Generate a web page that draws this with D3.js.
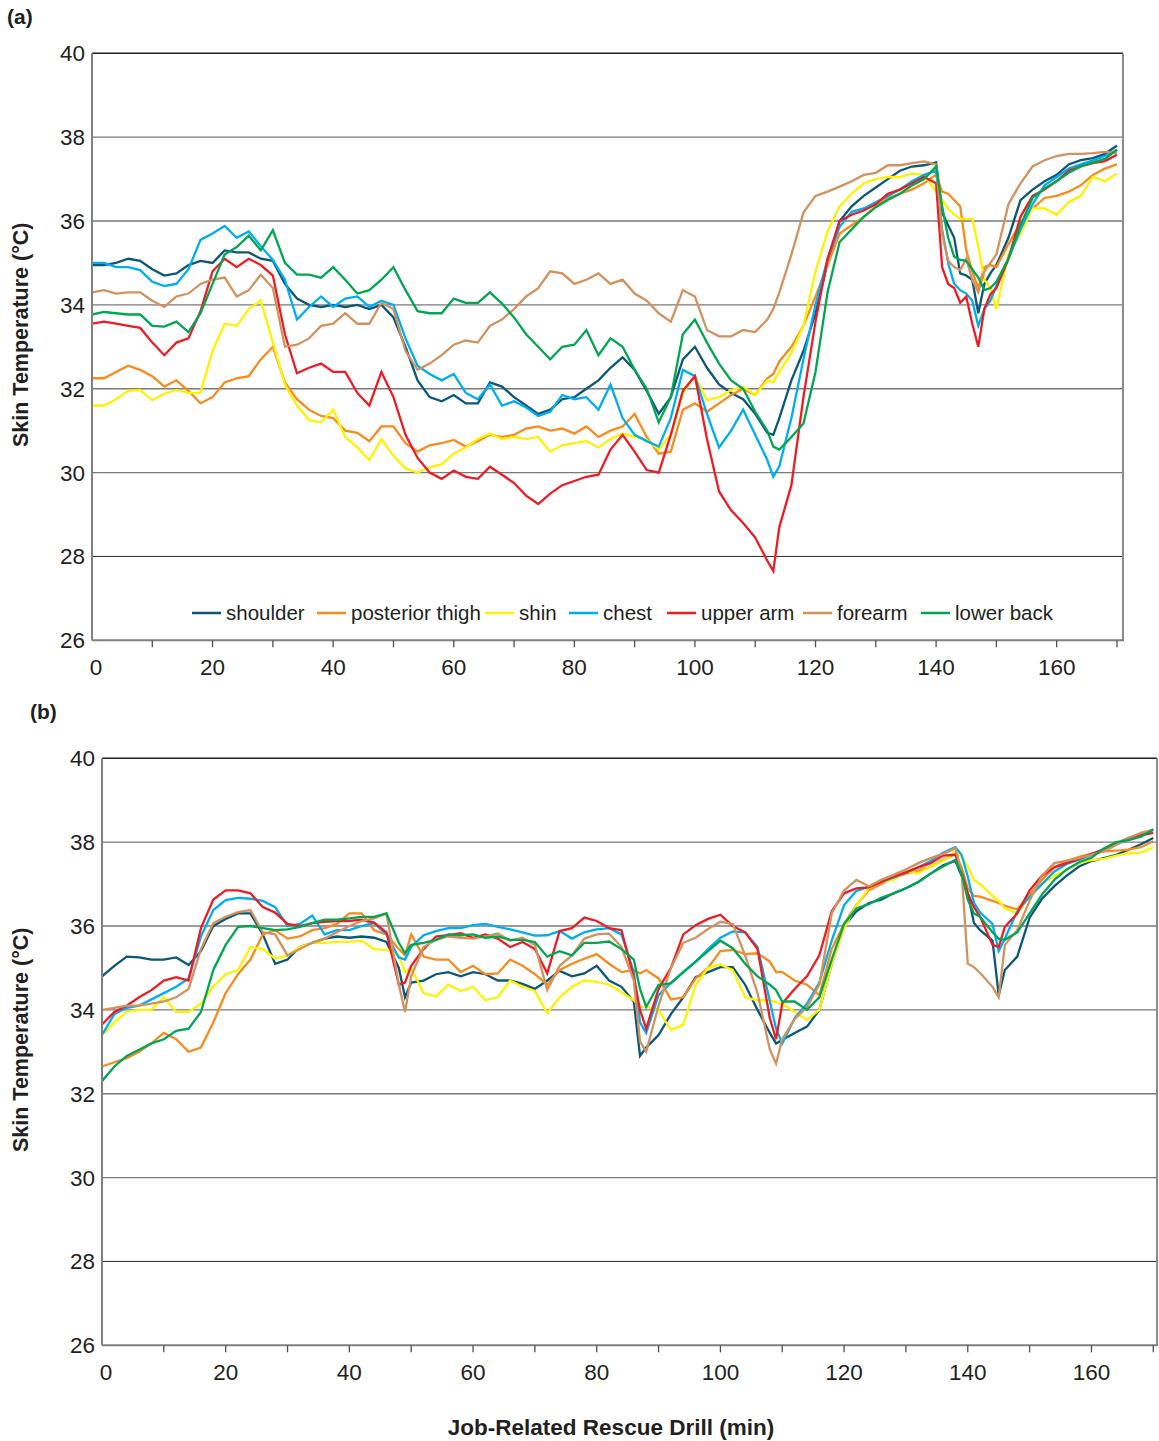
<!DOCTYPE html>
<html><head><meta charset="utf-8">
<script src="https://cdn.jsdelivr.net/npm/d3@7"></script>
<style>
body{margin:0;background:#fff}
svg{display:block}
text{font-family:"Liberation Sans",Arial,sans-serif;fill:#231f20}
</style>
</head><body><svg id="c" width="1159" height="1441"></svg>
<script>
// ---------- data ----------
const seriesNames = ["shoulder","posterior thigh","shin","chest","upper arm","forearm","lower back"];
const seriesColors = ["#0b5777","#f68b1f","#fff200","#00aeef","#ed1c24","#d2925e","#00a651"];
const yTickValues = [26,28,30,32,34,36,38,40];
const xTickLabels = [0,20,40,60,80,100,120,140,160];
const xTickMarks = [10,20,30,40,50,60,70,80,90,100,110,120,130,140,150,160,170];

const timesA = [0,2,4,6,8,10,12,14,16,18,20,22,24,26,28,30,32,34,36,38,40,42,44,46,48,50,52,54,56,58,60,62,64,66,68,70,72,74,76,78,80,82,84,86,88,90,92,94,96,98,100,102,104,106,108,110,112,
113,114,116,118,120,122,124,126,128,130,132,134,136,138,140,
141,142,143,144,145,146,147,148,149,150,152,154,156,158,160,162,164,166,168,170];

const shoulderA = [34.95,34.95,35.0,35.1,35.05,34.85,34.7,34.75,34.95,35.05, 35.0,35.3,35.25,35.25,35.1, 35.05,34.5,34.15,34.0,33.95, 34.0,33.95,34.0,33.9,34.0, 33.7,33.0,32.2,31.8,31.7, 31.85,31.65,31.65,32.15,32.05, 31.8,31.6,31.4,31.5,31.75, 31.8,32.0,32.2,32.5,32.75, 32.45,31.95,31.4,31.8,32.7, 33.0,32.5,32.1,31.9,31.75, 31.4,30.95,
30.9, 31.3,32.2,32.9,33.8,35.0,36.0,36.35,36.6,36.8,37.0,37.2,37.3,37.33,37.4,
36.2,35.9,35.6,34.75,34.7,34.6,33.8,34.5,34.75,34.95, 35.6,36.5,36.75,36.95,37.1,37.35,37.45,37.5,37.6,37.8];
const thighA = [32.25,32.25,32.4,32.55,32.45,32.3,32.05,32.2,31.95,31.65, 31.8,32.15,32.25,32.3,32.7, 33.0,32.15,31.75,31.5,31.35, 31.3,31.0,30.95,30.75,31.1, 31.1,30.7,30.5,30.65,30.7, 30.78,30.62,30.75,30.9,30.85, 30.9,31.05,31.1,31.0,31.05, 30.93,31.1,30.85,31.0,31.1, 31.4,30.85,30.45,30.5,31.5, 31.65,31.45,31.65,31.85,32.0, 31.85,32.25,
32.35, 32.65,33.0,33.5,34.2,34.95,35.7,35.9,36.1,36.35,36.55,36.65,36.75,36.9,37.1,
36.7,36.65,36.5,36.35,35.3,34.8,34.4,34.9,34.95,34.9, 35.45,35.95,36.3,36.55,36.6,36.7,36.85,37.1,37.25,37.35];
const shinA = [31.6,31.6,31.75,31.95,31.97,31.73,31.88,31.97,31.9,31.9, 32.9,33.55,33.5,33.9,34.1, 33.1,32.1,31.6,31.25,31.2, 31.5,30.85,30.6,30.3,30.8, 30.4,30.1,30.0,30.12,30.2, 30.45,30.6,30.8,30.93,30.8, 30.85,30.8,30.85,30.5,30.65, 30.7,30.75,30.6,30.8,30.93, 30.85,30.78,30.55,30.9,31.9, 32.3,31.73,31.8,31.97,32.05, 31.85,32.2,
32.15, 32.4,32.85,33.5,34.8,35.75,36.35,36.65,36.9,37.0,37.05,37.05,37.13,37.1,36.7,
36.5,36.3,36.15,36.05,36.05,36.05,35.4,34.6,34.4,33.9, 35.2,35.7,36.3,36.3,36.15,36.45,36.6,37.05,36.95,37.13];
const chestA = [35.0,35.0,34.9,34.9,34.83,34.55,34.45,34.5,34.85,35.55, 35.7,35.88,35.6,35.75,35.4, 35.07,34.6,33.65,33.95,34.2, 33.95,34.15,34.2,33.95,34.1, 34.0,33.2,32.55,32.35,32.2, 32.35,31.9,31.75,32.1,31.6, 31.7,31.55,31.35,31.45,31.85, 31.75,31.8,31.5,32.1,31.3, 30.9,30.75,30.62,31.3,32.45, 32.3,31.4,30.6,31.0,31.5, 30.9,30.3,
29.9, 30.15,31.3,32.7,34.0,35.1,35.86,36.22,36.3,36.45,36.6,36.75,36.95,37.1,37.2,
35.8,35.0,34.5,34.35,34.27,34.1,33.5,33.9,34.1,34.45, 35.1,35.8,36.4,36.85,37.05,37.25,37.35,37.45,37.55,37.7];
const upperArmA = [33.55,33.6,33.55,33.5,33.45,33.1,32.8,33.1,33.2,33.85, 34.8,35.1,34.9,35.1,34.95, 34.7,33.3,32.37,32.5,32.6, 32.4,32.4,31.9,31.6,32.4, 31.8,30.9,30.35,30.0,29.85, 30.05,29.9,29.85,30.14,29.95, 29.75,29.45,29.25,29.5,29.7, 29.8,29.9,29.95,30.55,30.9, 30.5,30.06,30.0,30.9,31.95, 32.3,30.8,29.55,29.1,28.8, 28.45,27.9,
27.65, 28.7,29.7,31.8,33.6,35.1,36.0,36.15,36.25,36.4,36.65,36.75,36.9,37.05,36.9,
34.9,34.5,34.4,34.05,34.2,33.55,33.0,33.9,34.25,34.4, 35.1,36.1,36.6,36.75,36.95,37.2,37.3,37.38,37.43,37.58];
const forearmA = [34.3,34.35,34.27,34.3,34.3,34.1,33.95,34.2,34.27,34.5, 34.6,34.65,34.2,34.35,34.72, 34.4,33.0,33.05,33.2,33.5, 33.55,33.8,33.55,33.55,34.05, 33.9,32.9,32.45,32.6,32.8, 33.05,33.15,33.1,33.5,33.65, 33.9,34.2,34.4,34.8,34.75, 34.5,34.6,34.75,34.5,34.6, 34.27,34.1,33.8,33.6,34.35, 34.2,33.4,33.25,33.25,33.4, 33.35,33.65,
33.9, 34.3,35.2,36.2,36.6,36.7,36.82,36.95,37.1,37.15,37.33,37.33,37.38,37.42,37.35,
35.7,35.05,34.9,34.83,35.1,34.6,34.3,34.8,35.0,35.2, 36.4,36.9,37.3,37.45,37.55,37.6,37.6,37.62,37.65,37.62];
const lowerBackA = [33.77,33.83,33.8,33.77,33.77,33.5,33.48,33.6,33.35,33.8, 34.5,35.2,35.38,35.65,35.3, 35.78,35.0,34.72,34.72,34.65, 34.9,34.6,34.27,34.35,34.6, 34.9,34.35,33.85,33.8,33.8, 34.15,34.05,34.05,34.3,34.03, 33.7,33.3,33.0,32.7,33.0, 33.05,33.4,32.8,33.2,33.0, 32.45,32.0,31.2,31.8,33.3, 33.65,33.1,32.6,32.2,32.0, 31.45,31.0,
30.62, 30.55,30.85,31.17,32.4,34.3,35.5,35.8,36.1,36.33,36.5,36.65,36.85,37.0,37.3,
36.35,35.6,35.15,35.07,35.05,34.85,34.65,34.35,34.4,34.55, 35.1,35.9,36.55,36.78,36.95,37.15,37.3,37.4,37.48,37.7];

const timesB = [0,2,4,6,8,10,12,14,16,18,20,22,24,26,28,30,32,34,36,38,40,42,44,46,48,
49,50,52,54,56,58,60,62,64,66,68,70,72,74,76,78,80,82,84,86,
87,88,90,92,94,96,98,100,102,104,106,108,
109,110,112,114,116,118,120,122,124,126,128,130,132,134,136,138,
139,140,141,142,144,145,146,148,150,152,154,156,158,160,162,164,166,168,170];

const shoulderB = [34.8,35.05,35.27,35.25,35.2,35.2,35.25,35.07,35.4,36.0, 36.17,36.3,36.3,35.8,35.1, 35.2,35.5,35.6,35.7,35.75, 35.72,35.75,35.72,35.62,35.0,
34.3, 34.65,34.7,34.85,34.9,34.8, 34.9,34.85,34.7,34.7,34.62, 34.5,34.7,34.93,34.8,34.87, 35.05,34.7,34.55,34.2,
32.9, 33.1,33.4,33.9,34.3,34.78,34.9,35.02,35.02,34.6,34.0,33.45,
33.2, 33.28,33.45,33.6,34.0,35.1,36.0,36.35,36.55,36.63,36.78,36.9,37.05,37.25,37.45,37.55,
37.2,36.78,36.07,35.9,35.65,34.35,34.95, 35.27,36.2,36.65,36.95,37.2,37.42,37.55,37.62,37.7,37.82,37.95,38.1];
const thighB = [32.65,32.75,32.85,33.0,33.2,33.45,33.3,33.0,33.1,33.7, 34.4,34.85,35.2,35.8,35.9, 35.7,35.75,35.9,35.95,36.05, 36.3,36.3,35.9,35.8,35.45,
35.3, 35.8,35.27,35.2,35.2,34.9, 35.05,34.85,34.87,35.2,35.05, 34.85,34.6,34.95,35.1,35.22, 35.33,35.1,34.9,34.95,
34.87, 34.95,34.75,34.25,34.3,34.75,35.0,35.4,35.43,35.33,35.35,35.15,
34.9, 34.9,34.7,34.6,34.35,35.45,36.05,36.5,36.85,37.0,37.15,37.25,37.32,37.42,37.58,37.72,
37.4,36.9,36.72,36.7,36.6,36.55,36.48, 36.4,36.75,37.1,37.4,37.55,37.65,37.72,37.78,37.8,37.82,37.88,38.02];
const shinB = [33.4,33.7,33.95,34.0,34.0,34.3,33.95,33.95,34.15,34.55, 34.85,34.95,35.5,35.45,35.22, 35.3,35.5,35.6,35.6,35.62, 35.62,35.65,35.45,35.43,35.3,
34.9, 35.0,34.4,34.32,34.6,34.45, 34.55,34.23,34.3,34.7,34.55, 34.45,33.92,34.3,34.55,34.7, 34.67,34.6,34.42,34.23,
34.07, 34.07,34.0,33.52,33.65,34.6,35.0,35.08,34.95,34.3,34.23,34.23,
34.18, 34.15,33.95,33.76,34.0,35.1,35.95,36.5,36.9,37.05,37.1,37.3,37.26,37.42,37.55,37.78,
37.65,37.42,37.1,37.0,36.72,36.6,36.42, 36.3,36.7,37.0,37.2,37.35,37.5,37.57,37.6,37.68,37.73,37.75,37.88];
const chestB = [33.4,33.9,34.05,34.1,34.25,34.4,34.55,34.75,35.75,36.38, 36.62,36.67,36.65,36.6,36.45, 36.0,36.05,36.25,35.8,35.9, 35.9,36.0,36.07,35.8,35.25,
35.2, 35.5,35.78,35.88,35.95,35.95, 36.02,36.05,35.98,35.92,35.85, 35.77,35.78,35.88,35.7,35.85, 35.92,35.95,35.8,34.9,
33.7, 33.45,34.35,34.65,34.9,35.15,35.45,35.72,35.87,35.85,35.5,34.2,
33.55, 33.2,33.8,34.15,34.65,35.65,36.5,36.84,36.93,37.05,37.15,37.28,37.4,37.55,37.75,37.88,
37.7,37.18,36.55,36.32,36.05,35.4,35.7, 36.35,36.7,37.0,37.3,37.48,37.58,37.7,37.82,37.95,38.06,38.18,38.3];
const upperArmB = [33.65,33.95,34.1,34.3,34.47,34.7,34.78,34.7,35.95,36.63, 36.85,36.85,36.78,36.45,36.32, 36.05,36.0,36.07,36.1,36.12, 36.12,36.15,36.08,35.85,34.6,
34.65, 35.05,35.45,35.75,35.78,35.83, 35.72,35.8,35.7,35.5,35.62, 35.45,34.87,35.88,35.95,36.2, 36.12,35.95,35.9,34.78,
34.0, 33.55,34.5,35.0,35.8,36.02,36.17,36.27,36.0,35.85,35.45,33.8,
33.3, 34.15,34.5,34.8,35.3,36.35,36.78,36.9,36.92,37.05,37.18,37.28,37.4,37.5,37.68,37.7,
37.3,36.78,36.45,36.22,35.55,35.5,35.98, 36.3,36.85,37.2,37.4,37.5,37.6,37.72,37.83,37.96,38.1,38.16,38.22];
const forearmB = [34.0,34.05,34.1,34.1,34.15,34.2,34.3,34.5,35.45,36.07, 36.22,36.33,36.38,35.85,35.8, 35.3,35.45,35.6,35.7,35.85, 36.0,36.12,36.18,36.3,34.6,
33.95, 34.8,35.5,35.67,35.75,35.72, 35.7,35.75,35.82,35.65,35.72, 35.55,34.47,35.05,35.3,35.7, 35.8,35.82,35.5,34.7,
33.25, 33.0,34.1,35.0,35.6,35.72,35.93,36.1,36.05,35.3,34.4,33.05,
32.72, 33.3,33.78,34.07,34.6,36.3,36.85,37.1,36.95,37.1,37.22,37.35,37.5,37.62,37.72,37.85,
37.3,35.1,35.02,34.88,34.55,34.3,35.55, 35.9,36.6,37.2,37.5,37.56,37.62,37.7,37.78,37.93,38.1,38.22,38.3];
const lowerBackB = [32.3,32.65,32.9,33.05,33.2,33.3,33.5,33.55,33.95,34.95, 35.55,35.98,36.0,35.95,35.9, 35.92,35.98,36.07,36.15,36.15, 36.18,36.22,36.22,36.3,35.6,
35.35, 35.55,35.6,35.67,35.8,35.78, 35.8,35.72,35.75,35.67,35.67, 35.62,35.27,35.4,35.3,35.6, 35.6,35.63,35.45,35.2,
34.5, 34.07,34.6,34.63,34.9,35.15,35.4,35.65,35.47,35.1,34.8,34.6,
34.47, 34.2,34.2,34.0,34.3,35.2,36.05,36.42,36.52,36.67,36.78,36.9,37.05,37.25,37.42,37.58,
37.25,36.63,36.3,36.22,35.85,35.7,35.67, 35.85,36.3,36.75,37.1,37.35,37.52,37.63,37.85,38.0,38.05,38.13,38.3];

// ---------- drawing ----------
const svg = d3.select("#c");

const panels = [
  {times: timesA, series:[shoulderA,thighA,shinA,chestA,upperArmA,forearmA,lowerBackA],
   left:92, right:1123, top:53.3, bottom:640.3, xMax:171, tag:"(a)", tagX:7, tagY:24, legend:true, id:"a"},
  {times: timesB, series:[shoulderB,thighB,shinB,chestB,upperArmB,forearmB,lowerBackB],
   left:102, right:1157, top:758.3, bottom:1345.3, xMax:170.6, tag:"(b)", tagX:30, tagY:719, legend:false, id:"b"}
];

panels.forEach(p => {
  const x = d3.scaleLinear().domain([0, p.xMax]).range([p.left, p.right]);
  const y = d3.scaleLinear().domain([26, 40]).range([p.bottom, p.top]);
  const g = svg.append("g");

  // gridlines
  g.selectAll("line.grid").data(yTickValues.filter(v => v > 26 && v < 40)).enter()
    .append("line").attr("x1", p.left).attr("x2", p.right)
    .attr("y1", d => y(d)).attr("y2", d => y(d))
    .attr("stroke", d => d === 28 ? "#2a2a2a" : "#7a7a7a").attr("stroke-width", d => d === 28 ? 1 : 1.3);
  // top border
  g.append("line").attr("x1", p.left).attr("x2", p.right).attr("y1", y(40)).attr("y2", y(40))
    .attr("stroke", "#231f20").attr("stroke-width", 1.4);
  // right border
  g.append("line").attr("x1", p.right).attr("x2", p.right).attr("y1", y(40)).attr("y2", y(26))
    .attr("stroke", "#8a8a8a").attr("stroke-width", 2);

  // clip
  svg.append("clipPath").attr("id", "clip" + p.id).append("rect")
    .attr("x", p.left).attr("y", p.top).attr("width", p.right - p.left).attr("height", p.bottom - p.top);

  const lines = g.append("g").attr("clip-path", "url(#clip" + p.id + ")");
  p.series.forEach((vals, i) => {
    const pts = p.times.map((t, k) => ({t, v: vals[k]}));
    const line = d3.line().defined(d => d.v != null).x(d => x(d.t)).y(d => y(d.v));
    lines.append("path").datum(pts).attr("d", line)
      .attr("fill", "none").attr("stroke", seriesColors[i])
      .attr("stroke-width", 2.3).attr("stroke-linejoin", "miter").attr("stroke-linecap", "butt");
  });

  // axes lines
  g.append("line").attr("x1", p.left).attr("x2", p.left).attr("y1", y(40)).attr("y2", y(26))
    .attr("stroke", "#808080").attr("stroke-width", 2);
  g.append("line").attr("x1", p.left).attr("x2", p.right + 1).attr("y1", y(26)).attr("y2", y(26))
    .attr("stroke", "#808080").attr("stroke-width", 2);
  // x tick marks
  g.selectAll("line.xt").data(xTickMarks).enter().append("line")
    .attr("x1", d => x(d)).attr("x2", d => x(d))
    .attr("y1", y(26)).attr("y2", y(26) + 7)
    .attr("stroke", "#505050").attr("stroke-width", 1.3);
  // x labels
  g.selectAll("text.xl").data(xTickLabels).enter().append("text")
    .attr("x", d => x(d) + (d === 0 ? 4 : 0)).attr("y", y(26) + 35)
    .attr("text-anchor", "middle").attr("font-size", 22.5).text(d => d);
  // y labels
  g.selectAll("text.yl").data(yTickValues).enter().append("text")
    .attr("x", p.left - 7).attr("y", d => y(d) + 8)
    .attr("text-anchor", "end").attr("font-size", 22.5).text(d => d);
  // y title
  g.append("text").attr("transform", `translate(28,${(p.top + p.bottom) / 2 - 12}) rotate(-90)`)
    .attr("text-anchor", "middle").attr("font-size", 21.5).attr("font-weight", "bold")
    .text("Skin Temperature (°C)");
  // tag
  g.append("text").attr("x", p.tagX).attr("y", p.tagY).attr("font-size", 21).attr("font-weight", "bold").text(p.tag);

  if (p.legend) {
    const lx = [192, 317, 485, 569, 667, 803, 921];
    const ly = 613;
    const lg = g.append("g");
    seriesNames.forEach((n, i) => {
      lg.append("line").attr("x1", lx[i]).attr("x2", lx[i] + 29).attr("y1", ly).attr("y2", ly)
        .attr("stroke", seriesColors[i]).attr("stroke-width", 2.5);
      lg.append("text").attr("x", lx[i] + 34).attr("y", ly + 7).attr("font-size", 20.5).text(n);
    });
  }
});

svg.append("text").attr("x", 611).attr("y", 1435).attr("text-anchor", "middle")
  .attr("font-size", 22.5).attr("font-weight", "bold").text("Job-Related Rescue Drill (min)");
</script>
</body></html>
